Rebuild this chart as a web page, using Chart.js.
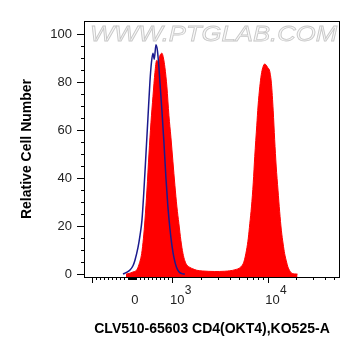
<!DOCTYPE html>
<html>
<head>
<meta charset="utf-8">
<script src="https://cdn.jsdelivr.net/npm/chart.js@4.4.1/dist/chart.umd.min.js"></script>
<style>
  html, body { margin: 0; padding: 0; background: #fff; }
  #wrap { width: 361px; height: 356px; }
</style>
</head>
<body>
<div id="wrap"><canvas id="histChart"></canvas></div>
<script>
// CD4 stained sample (red, filled): fluorescence intensity / relative cell number
const sampleX = [-148, -49, 25, 116, 173, 240, 284, 321, 370, 420, 469, 519, 568, 610, 654, 691, 741, 778, 815, 864, 914, 963,
    1012, 1062, 1115, 1170, 1228, 1289, 1352, 1419, 1525, 1640, 1806, 2088, 2789, 3545, 4513, 5225, 5620, 6000, 6264, 6493,
    6762, 7060, 7320, 7690, 7930, 8270, 8570, 8890, 9320, 9670, 10020, 10520, 10950, 11440, 11850, 12290, 12840, 13370,
    13930, 14550, 15070, 15810, 16310, 17000, 17730, 19180, 20600];
const sampleY = [0, 0.4, 0.9, 1.7, 4, 8.6, 15, 22.5, 35, 50, 63, 74, 84, 89, 88.5, 91, 92, 90, 86, 78, 66, 57,
    47, 37, 28, 21, 14, 8.7, 5.5, 3.8, 2.8, 2.2, 1.6, 1.3, 1.1, 1.2, 1.8, 3, 5, 10, 15, 21,
    28, 38, 49, 62, 70, 78, 83, 86, 87.5, 87, 86, 84.5, 79.5, 68, 56, 45, 35, 26,
    18.3, 12.5, 8.6, 5, 3, 1.5, 0.5, 0.1, 0];

// isotype control (blue line)
const controlX = [-222, -123, -49, 25, 74, 148, 198, 247, 296, 346, 395, 444, 481, 519, 551, 593, 630, 667, 691,
    741, 790, 840, 889, 938, 988, 1037, 1101, 1170, 1258, 1352];
const controlY = [0, 0.8, 1.7, 3.5, 5.8, 11, 16, 22.5, 35, 50, 65, 80, 88, 92, 89.5, 95.5, 93, 86, 80,
    68, 55, 40, 28, 19, 12, 7, 3, 1, 0.2, 0];

const yTickValues = [0, 20, 40, 60, 80, 100];
const xLabelValues = [0, 1000, 10000];
const xLabelBase = ['0', '10', '10'];
const xLabelExp = ['', '3', '4'];
const xMajorTicks = [-1000, 1000, 10000];
const xMinorTicks = [-900, -800, -700, -600, -500, -400, -300, -200, -100,
    -80, -60, -40, -20, 0, 20, 40, 60, 80,
    100, 200, 300, 400, 500, 600, 700, 800, 900,
    2000, 3000, 4000, 5000, 6000, 7000, 8000, 9000,
    20000, 30000, 40000, 50000];

// biexponential-like display transform: linear up to 1000, log above
const LIN = 1000, LIN_W = 40.5, DEC_W = 95.4;
function biex(v) {
    const a = Math.abs(v);
    const d = a <= LIN ? a / LIN * LIN_W : LIN_W + DEC_W * Math.log10(a / LIN);
    return v < 0 ? -d : d;
}

const FONT = '"Liberation Sans", Arial, sans-serif';

// Custom plugin: frame, tick marks, x labels with exponents, watermark
const flowAxisPlugin = {
    id: 'flowAxisPlugin',
    beforeDatasetsDraw: (chart) => {
        const ctx = chart.ctx;
        const area = chart.chartArea;
        ctx.save();
        ctx.font = 'italic 22px ' + FONT;
        const txt = 'WWW.PTGLAB.COM';
        const w = ctx.measureText(txt).width;
        ctx.translate(area.left + 6, area.top + 20);
        ctx.scale(247 / w, 1);
        ctx.fillStyle = '#f8f8f8';
        ctx.strokeStyle = '#c8c8c8';
        ctx.lineWidth = 0.8;
        ctx.fillText(txt, 0, 0);
        ctx.strokeText(txt, 0, 0);
        ctx.restore();
    },
    afterDraw: (chart) => {
        const ctx = chart.ctx;
        const area = chart.chartArea;
        const xs = chart.scales.x;
        const ys = chart.scales.y;
        ctx.save();
        ctx.strokeStyle = '#000';
        ctx.lineWidth = 1;
        ctx.strokeRect(area.left + 0.5, area.top + 0.5, area.right - area.left - 1, area.bottom - area.top);

        // y ticks: major every 20, minor every 5
        ctx.beginPath();
        for (let v = 0; v <= 100; v += 5) {
            const y = Math.round(ys.getPixelForValue(v)) + 0.5;
            const len = v % 20 === 0 ? 7 : 3;
            ctx.moveTo(area.left - len, y);
            ctx.lineTo(area.left, y);
        }
        // x ticks
        xMajorTicks.forEach(v => {
            const x = Math.round(xs.getPixelForValue(biex(v))) + 0.5;
            ctx.moveTo(x, area.bottom);
            ctx.lineTo(x, area.bottom + 6);
        });
        xMinorTicks.forEach(v => {
            const x = Math.round(xs.getPixelForValue(biex(v))) + 0.5;
            ctx.moveTo(x, area.bottom);
            ctx.lineTo(x, area.bottom + 3);
        });
        ctx.stroke();

        // x labels
        ctx.fillStyle = '#222';
        ctx.textBaseline = 'alphabetic';
        xLabelValues.forEach((v, i) => {
            const x = xs.getPixelForValue(biex(v));
            ctx.font = '13px ' + FONT;
            if (xLabelExp[i] === '') {
                ctx.textAlign = 'center';
                ctx.fillText(xLabelBase[i], x + 3, area.bottom + 27);
            } else {
                ctx.textAlign = 'left';
                ctx.fillText(xLabelBase[i], x - 2.5, area.bottom + 27);
                const bw = ctx.measureText(xLabelBase[i]).width;
                ctx.font = '12px ' + FONT;
                ctx.fillText(xLabelExp[i], x - 2.5 + bw + 0.5, area.bottom + 17);
            }
        });
        ctx.restore();
    }
};

Chart.register(flowAxisPlugin);

var histCtx = document.getElementById('histChart').getContext('2d');
var histChart = new Chart(histCtx, {
    type: 'line',
    data: {
        datasets: [{
            data: controlX.map((x, i) => ({ x: biex(x), y: controlY[i] })),
            borderColor: '#1a1a8e',
            borderWidth: 1.5,
            fill: false,
            pointRadius: 0,
            cubicInterpolationMode: 'monotone',
            order: 0
        }, {
            data: sampleX.map((x, i) => ({ x: biex(x), y: sampleY[i] })),
            borderColor: '#ff0000',
            backgroundColor: '#ff0000',
            borderWidth: 1,
            fill: 'start',
            pointRadius: 0,
            cubicInterpolationMode: 'monotone',
            order: 1
        }]
    },
    options: {
        responsive: true,
        maintainAspectRatio: false,
        animation: false,
        layout: {
            padding: { left: 0, right: 21, top: 21, bottom: 0 }
        },
        scales: {
            x: {
                type: 'linear',
                min: biex(-1200),
                max: biex(57500),
                grid: { display: false },
                border: { display: false },
                ticks: { display: false },
                afterFit: (scale) => { scale.height = 79; },
                title: {
                    display: true,
                    text: 'CLV510-65603 CD4(OKT4),KO525-A',
                    color: '#000',
                    padding: { top: 0, bottom: 18 },
                    font: { family: FONT, size: 14, weight: 'bold' }
                }
            },
            y: {
                min: -1.2,
                max: 105.4,
                grid: { display: false, drawTicks: false },
                border: { display: false },
                afterBuildTicks: (scale) => {
                    scale.ticks = yTickValues.map(v => ({ value: v }));
                },
                afterFit: (scale) => { scale.width = 84; },
                ticks: {
                    padding: 12,
                    color: '#222',
                    font: { family: FONT, size: 13 }
                },
                title: {
                    display: true,
                    text: 'Relative Cell Number',
                    color: '#000',
                    padding: { top: 19, bottom: 0 },
                    font: { family: FONT, size: 14, weight: 'bold' }
                }
            }
        },
        plugins: {
            legend: { display: false },
            tooltip: { enabled: false }
        }
    }
});
</script>
</body>
</html>
